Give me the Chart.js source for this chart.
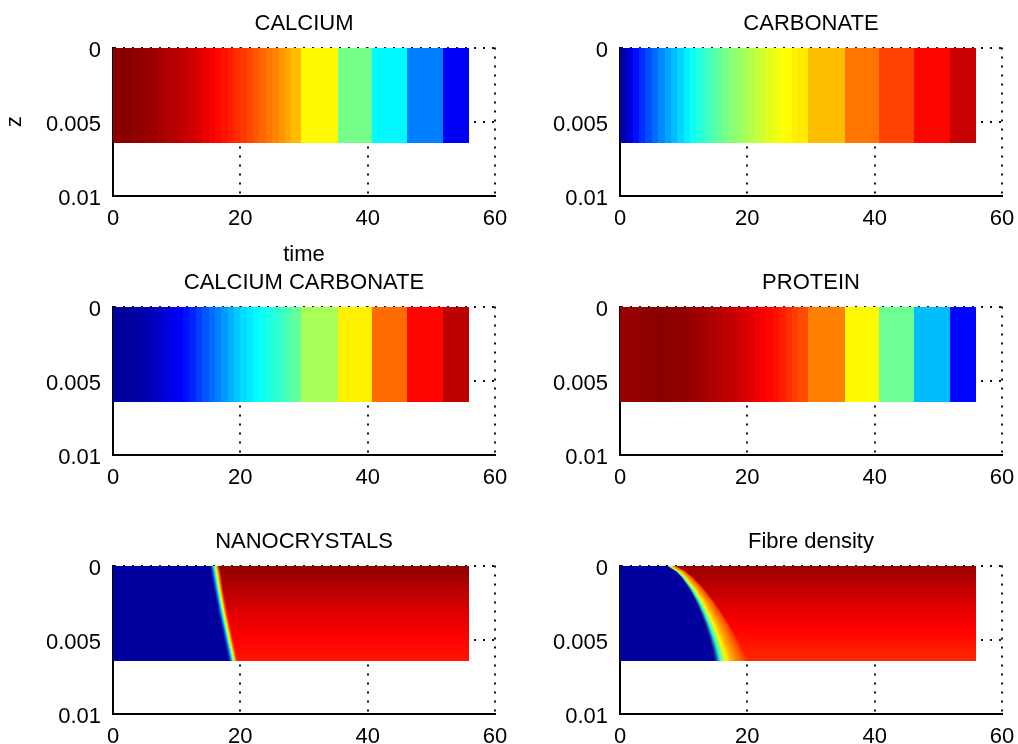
<!DOCTYPE html>
<html>
<head>
<meta charset="utf-8">
<title>Mineralisation profiles</title>
<script src="https://cdn.jsdelivr.net/npm/chart.js@4/dist/chart.umd.min.js"></script>
<style>
  html, body { margin: 0; padding: 0; background: #fff; }
  #figure { position: relative; width: 1018px; height: 744px; overflow: hidden; background: #fff; }
  #figure canvas { position: absolute; }
</style>
</head>
<body>
<div id="figure">
  <canvas id="calcium" width="509" height="300" style="left:2px;top:0px"></canvas>
  <canvas id="carbonate" width="509" height="300" style="left:509px;top:0px"></canvas>
  <canvas id="calciumCarbonate" width="509" height="300" style="left:2px;top:259px"></canvas>
  <canvas id="protein" width="509" height="300" style="left:509px;top:259px"></canvas>
  <canvas id="nanocrystals" width="509" height="300" style="left:2px;top:518px"></canvas>
  <canvas id="fibre" width="509" height="300" style="left:509px;top:518px"></canvas>
</div>
<script>
// saved solution frames: one per time unit early on, coarse later (last time closes the final frame)
const frameTimes = [0, 1, 2, 3, 4, 5, 6, 7, 8, 9, 10, 11, 12, 13, 14, 15, 16, 17, 18, 19, 20,
  21, 22, 23, 24, 25, 26, 27, 28, 29.6, 35.3, 40.7, 46.2, 51.8, 55.9];
const depthEnd = 0.0064;

// normalised level of each frame (0 = low, 1 = high)
const calciumLevels = [0.99, 0.99, 0.99, 0.985, 0.98, 0.975, 0.97, 0.962, 0.955, 0.948, 0.94,
  0.93, 0.92, 0.908, 0.895, 0.882, 0.87, 0.857, 0.845, 0.832, 0.82,
  0.805, 0.79, 0.775, 0.76, 0.745, 0.73, 0.71, 0.69, 0.63, 0.49, 0.37, 0.25, 0.12];
const carbonateLevels = [0.03, 0.09, 0.14, 0.17, 0.2, 0.23, 0.26, 0.285, 0.31, 0.335, 0.36,
  0.385, 0.41, 0.43, 0.45, 0.47, 0.49, 0.505, 0.52, 0.535, 0.55,
  0.565, 0.58, 0.595, 0.61, 0.62, 0.63, 0.64, 0.645, 0.69, 0.76, 0.81, 0.87, 0.93];
const calciumCarbonateLevels = [0.03, 0.03, 0.03, 0.035, 0.04, 0.05, 0.06, 0.075, 0.09, 0.105, 0.12,
  0.14, 0.16, 0.185, 0.21, 0.23, 0.25, 0.275, 0.3, 0.32, 0.34,
  0.355, 0.37, 0.385, 0.4, 0.415, 0.43, 0.45, 0.47, 0.54, 0.64, 0.77, 0.87, 0.94];
const proteinLevels = [0.975, 0.978, 0.98, 0.983, 0.985, 0.988, 0.99, 0.988, 0.985, 0.983, 0.98,
  0.975, 0.97, 0.962, 0.955, 0.948, 0.94, 0.932, 0.925, 0.915, 0.905,
  0.892, 0.88, 0.87, 0.86, 0.845, 0.83, 0.815, 0.8, 0.75, 0.63, 0.48, 0.31, 0.13];

// front panels: time where the low region ends at each depth, ramp width behind it, level further back
const frontDepths = [0, 0.0004, 0.0008, 0.0016, 0.0024, 0.0032, 0.004, 0.0048, 0.0056, 0.0064];
const nanoFront = [15.2, 15.4, 15.55, 15.9, 16.25, 16.6, 17.0, 17.4, 17.8, 18.2];
const nanoRampWidth = [1.5, 1.5, 1.5, 1.4, 1.4, 1.4, 1.4, 1.4, 1.4, 1.4];
const nanoLevel = [0.985, 0.975, 0.965, 0.945, 0.925, 0.905, 0.89, 0.875, 0.865, 0.855];
const fibreFront = [7.2, 8.7, 9.6, 10.9, 11.9, 12.7, 13.4, 14.0, 14.5, 14.9];
const fibreRampWidth = [1.5, 1.7, 1.9, 2.4, 2.9, 3.4, 3.9, 4.3, 4.8, 5.2];
const fibreLevel = [0.975, 0.965, 0.955, 0.935, 0.915, 0.895, 0.88, 0.865, 0.85, 0.835];
const lowLevel = 0.03;
const nanoRamp = [0.03, 0.22, 0.42, 0.62, 0.78];
const fibreRamp = [0.03, 0.42, 0.63, 0.7, 0.75, 0.79];

const timeTicks = [0, 20, 40, 60];
const timeTickLabels = ['0', '20', '40', '60'];
const depthTicks = [0, 0.005, 0.01];
const depthTickLabels = ['0', '0.005', '0.01'];

Chart.defaults.font.family = '"Liberation Sans", Arial, sans-serif';
Chart.defaults.font.size = 22;
Chart.defaults.color = '#000';

// matlab "jet" colormap
function jet(v) {
  const c = k => Math.round(255 * Math.max(0, Math.min(1, k)));
  return 'rgb(' + c(1.5 - Math.abs(4 * v - 3)) + ',' + c(1.5 - Math.abs(4 * v - 2)) + ',' + c(1.5 - Math.abs(4 * v - 1)) + ')';
}

function lerp(xs, ys, x) {
  if (x <= xs[0]) return ys[0];
  for (let i = 1; i < xs.length; i++) {
    if (x <= xs[i]) {
      const f = (x - xs[i - 1]) / (xs[i] - xs[i - 1]);
      return ys[i - 1] + f * (ys[i] - ys[i - 1]);
    }
  }
  return ys[ys.length - 1];
}

// one flat column per frame, full depth
function drawBands(levels) {
  return chart => {
    const { ctx, scales: { x, y } } = chart;
    const top = Math.round(y.getPixelForValue(0));
    const bottom = Math.round(y.getPixelForValue(depthEnd));
    ctx.save();
    levels.forEach((v, i) => {
      const left = Math.round(x.getPixelForValue(frameTimes[i]));
      const right = Math.round(x.getPixelForValue(frameTimes[i + 1]));
      ctx.fillStyle = jet(v);
      ctx.fillRect(left, top, right - left, bottom - top);
    });
    ctx.restore();
  };
}

// low region ahead of a moving front, colour ramp behind it, then the high level
function drawFront(front, widths, levels, ramp) {
  return chart => {
    const { ctx, scales: { x, y } } = chart;
    const top = Math.round(y.getPixelForValue(0));
    const bottom = Math.round(y.getPixelForValue(depthEnd));
    const left = Math.round(x.getPixelForValue(0));
    const right = Math.round(x.getPixelForValue(frameTimes[frameTimes.length - 1]));
    ctx.save();
    for (let py = top; py < bottom; py++) {
      const z = y.getValueForPixel(py + 0.5);
      const t0 = lerp(frontDepths, front, z);
      const t1 = t0 + lerp(frontDepths, widths, z);
      const level = lerp(frontDepths, levels, z);
      const x0 = x.getPixelForValue(t0);
      const x1 = x.getPixelForValue(t1);

      ctx.fillStyle = jet(level);
      ctx.fillRect(left, py, right - left, 1);

      const g = ctx.createLinearGradient(x0, 0, x1, 0);
      ramp.forEach((v, k) => g.addColorStop(k / ramp.length, jet(v)));
      g.addColorStop(1, jet(level));
      ctx.fillStyle = g;
      ctx.fillRect(x0, py, x1 - x0, 1);

      ctx.fillStyle = jet(lowLevel);
      ctx.fillRect(left, py, x0 - left, 1);
    }
    ctx.restore();
  };
}

function panel(id, title, drawHeat, axisTitles) {
  axisTitles = axisTitles || {};
  return new Chart(document.getElementById(id), {
    type: 'scatter',
    data: { datasets: [] },
    options: {
      responsive: false,
      animation: false,
      devicePixelRatio: 1,
      layout: { padding: { left: 0, right: 16, top: 0, bottom: 24 } },
      plugins: {
        legend: { display: false },
        tooltip: { enabled: false },
        title: {
          display: true,
          text: title,
          fullSize: false,
          color: '#000',
          font: { size: 22, weight: 'normal' },
          padding: { top: 10.3, bottom: 10.8 }
        }
      },
      scales: {
        x: {
          type: 'linear',
          min: 0,
          max: 60,
          // fixed axis box so every panel gets the same plot area
          afterFit: s => { s.height = 80; s.paddingLeft = 0; s.paddingRight = 0; },
          afterBuildTicks: s => { s.ticks = timeTicks.map(value => ({ value })); },
          ticks: {
            callback: (v, i) => timeTickLabels[i],
            padding: 10,
            maxRotation: 0,
            autoSkip: false,
            color: '#000'
          },
          grid: { drawTicks: false, color: '#111', lineWidth: 2 },
          border: { color: '#000', width: 2, dash: [2, 7] },
          title: {
            display: !!axisTitles.x,
            text: axisTitles.x || '',
            color: '#000',
            padding: { top: 0, bottom: 8 }
          }
        },
        y: {
          type: 'linear',
          reverse: true,
          min: 0,
          max: 0.01,
          afterFit: s => { s.width = 111; },
          afterBuildTicks: s => { s.ticks = depthTicks.map(value => ({ value })); },
          ticks: {
            callback: (v, i) => depthTickLabels[i],
            padding: 12,
            labelOffset: 3,
            autoSkip: false,
            color: '#000'
          },
          grid: { drawTicks: false, color: '#111', lineWidth: 2 },
          border: { color: '#000', width: 2, dash: [2, 7] },
          title: {
            display: !!axisTitles.y,
            text: axisTitles.y || '',
            color: '#000',
            padding: { top: 0, bottom: 0 }
          }
        }
      }
    },
    plugins: [{ id: 'heat', beforeDatasetsDraw: drawHeat }]
  });
}

panel('calcium', 'CALCIUM', drawBands(calciumLevels), { x: 'time', y: 'z' });
panel('carbonate', 'CARBONATE', drawBands(carbonateLevels));
panel('calciumCarbonate', 'CALCIUM CARBONATE', drawBands(calciumCarbonateLevels));
panel('protein', 'PROTEIN', drawBands(proteinLevels));
panel('nanocrystals', 'NANOCRYSTALS', drawFront(nanoFront, nanoRampWidth, nanoLevel, nanoRamp));
panel('fibre', 'Fibre density', drawFront(fibreFront, fibreRampWidth, fibreLevel, fibreRamp));
</script>
</body>
</html>
